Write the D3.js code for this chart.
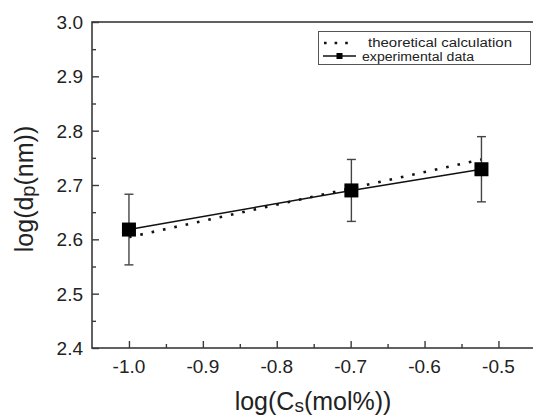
<!DOCTYPE html>
<html>
<head>
<meta charset="utf-8">
<script src="https://cdn.jsdelivr.net/npm/d3@7.9.0/dist/d3.min.js"></script>
<style>
  body { margin: 0; background: #fff; }
  svg { display: block; font-family: "Liberation Sans", Arial, sans-serif; }
</style>
</head>
<body>
<svg id="chart" width="533" height="417"></svg>
<script>
// data
const expX = [-1.0, -0.699, -0.523];
const expY = [2.618, 2.690, 2.729];
const expErr = [0.065, 0.057, 0.060];
const theoX = [-1.0, -0.699, -0.523];
const theoY = [2.604, 2.694, 2.747];
const xTicks = [-1.0, -0.9, -0.8, -0.7, -0.6, -0.5];
const yTicks = [2.4, 2.5, 2.6, 2.7, 2.8, 2.9, 3.0];

const svg = d3.select('#chart');
const plotLeft = 92, plotTop = 22, plotBottom = 348;

const x = d3.scaleLinear().domain([-1.05, -0.45]).range([plotLeft, plotLeft + 0.6 * 739]);
const y = d3.scaleLinear().domain([2.4, 3.0]).range([plotBottom, plotTop]);

const axisColor = '#3a3a3a';

// frame (right side runs past the image edge)
svg.append('rect')
  .attr('x', x(-1.05)).attr('y', y(3.0))
  .attr('width', x(-0.45) - x(-1.05)).attr('height', y(2.4) - y(3.0))
  .attr('fill', 'none').attr('stroke', axisColor).attr('stroke-width', 1.6);

function styleTicks(g) {
  g.select('.domain').remove();
  g.selectAll('line').attr('stroke', axisColor).attr('stroke-width', 1.4);
}

// x axis ticks (inward)
svg.append('g').attr('transform', `translate(0,${y(2.4)})`)
  .call(d3.axisTop(x).tickValues(xTicks).tickSize(7).tickFormat(''))
  .call(styleTicks);
svg.append('g').attr('transform', `translate(0,${y(2.4)})`)
  .call(d3.axisTop(x).tickValues(xTicks.map(v => v + 0.05).filter(v => v < -0.45)).tickSize(4).tickFormat(''))
  .call(styleTicks);
svg.append('g').selectAll('text').data(xTicks).enter().append('text')
  .attr('x', d => x(d)).attr('y', 373)
  .attr('text-anchor', 'middle').attr('font-size', 19).attr('fill', '#222')
  .text(d => d3.format('.1f')(d).replace('−', '-'));

// y axis ticks (inward)
svg.append('g').attr('transform', `translate(${x(-1.05)},0)`)
  .call(d3.axisRight(y).tickValues(yTicks).tickSize(7).tickFormat(''))
  .call(styleTicks);
svg.append('g').attr('transform', `translate(${x(-1.05)},0)`)
  .call(d3.axisRight(y).tickValues(yTicks.slice(0, -1).map(v => v + 0.05)).tickSize(4).tickFormat(''))
  .call(styleTicks);
svg.append('g').selectAll('text').data(yTicks).enter().append('text')
  .attr('x', 83).attr('y', d => y(d) + 7)
  .attr('text-anchor', 'end').attr('font-size', 19).attr('fill', '#222')
  .text(d => d3.format('.1f')(d));

// axis titles
const xt = svg.append('text').attr('x', 313).attr('y', 410)
  .attr('text-anchor', 'middle').attr('font-size', 25).attr('fill', '#222');
xt.append('tspan').text('log(C');
xt.append('tspan').attr('font-size', 19).attr('dy', 2).text('s');
xt.append('tspan').attr('dy', -2).text('(mol%))');

const yt = svg.append('text').attr('transform', 'translate(33,189) rotate(-90)')
  .attr('text-anchor', 'middle').attr('font-size', 25).attr('fill', '#222');
yt.append('tspan').text('log(d');
yt.append('tspan').attr('font-size', 20).attr('dy', 2).text('p');
yt.append('tspan').attr('dy', -2).text('(nm))');

// theoretical dotted line
const line = d3.line().x(d => x(d[0])).y(d => y(d[1]));
svg.append('path').datum(d3.zip(theoX, theoY)).attr('d', line)
  .attr('fill', 'none').attr('stroke', '#111').attr('stroke-width', 2.6)
  .attr('stroke-dasharray', '2.6,9').attr('stroke-linecap', 'butt');

// experimental line
svg.append('path').datum(d3.zip(expX, expY)).attr('d', line)
  .attr('fill', 'none').attr('stroke', '#111').attr('stroke-width', 1.6);

// error bars
const eb = svg.append('g').attr('stroke', '#444').attr('stroke-width', 1.4);
expX.forEach((xv, i) => {
  const hi = y(expY[i] + expErr[i]), lo = y(expY[i] - expErr[i]);
  eb.append('line').attr('x1', x(xv)).attr('x2', x(xv)).attr('y1', hi).attr('y2', lo);
  eb.append('line').attr('x1', x(xv) - 4.5).attr('x2', x(xv) + 4.5).attr('y1', hi).attr('y2', hi);
  eb.append('line').attr('x1', x(xv) - 4.5).attr('x2', x(xv) + 4.5).attr('y1', lo).attr('y2', lo);
});

// markers
svg.append('g').selectAll('rect').data(d3.zip(expX, expY)).enter().append('rect')
  .attr('x', d => x(d[0]) - 7).attr('y', d => y(d[1]) - 7)
  .attr('width', 14).attr('height', 14).attr('fill', '#000');

// legend
const lg = svg.append('g');
lg.append('rect').attr('x', 318.5).attr('y', 31.5).attr('width', 212).attr('height', 33)
  .attr('fill', '#fff').attr('stroke', '#555').attr('stroke-width', 1);
lg.append('line').attr('x1', 324).attr('x2', 352).attr('y1', 43).attr('y2', 43)
  .attr('stroke', '#111').attr('stroke-width', 2.6).attr('stroke-dasharray', '2.6,8');
lg.append('text').attr('x', 368).attr('y', 47).attr('font-size', 12.5).attr('fill', '#222')
  .attr('textLength', 144).attr('lengthAdjust', 'spacingAndGlyphs')
  .text('theoretical calculation');
lg.append('line').attr('x1', 323).attr('x2', 356).attr('y1', 56).attr('y2', 56)
  .attr('stroke', '#111').attr('stroke-width', 1.6);
lg.append('rect').attr('x', 336.5).attr('y', 53).attr('width', 6).attr('height', 6).attr('fill', '#000');
lg.append('text').attr('x', 362).attr('y', 61).attr('font-size', 12.5).attr('fill', '#222')
  .attr('textLength', 112).attr('lengthAdjust', 'spacingAndGlyphs')
  .text('experimental data');
</script>
</body>
</html>
